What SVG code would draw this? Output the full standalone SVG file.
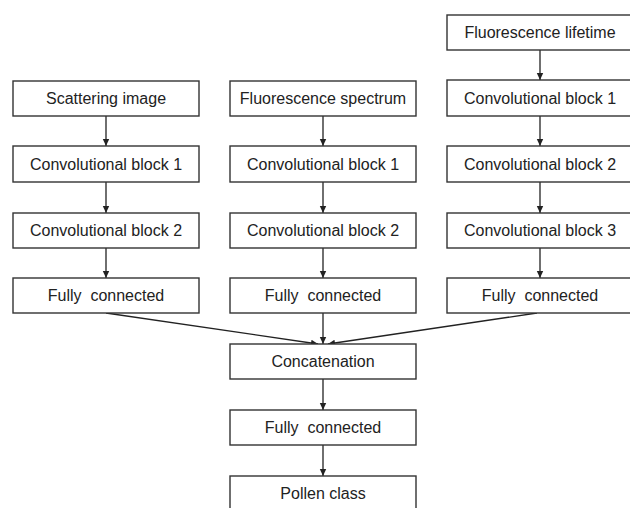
<svg xmlns="http://www.w3.org/2000/svg" width="630" height="508" viewBox="0 0 630 508">
<defs>
<marker id="ah" markerWidth="8" markerHeight="8" refX="7" refY="4" orient="auto" markerUnits="userSpaceOnUse">
<path d="M0,0.8 L7,4 L0,7.2 Z" fill="#222"/>
</marker>
<style>
.box{fill:#fff;stroke:#333;stroke-width:1.4}
.t{font-family:"Liberation Sans",Arial,sans-serif;font-size:16px;fill:#222;text-anchor:middle}
.c{stroke:#222;stroke-width:1.3;fill:none;marker-end:url(#ah)}
</style>
</defs>
<rect width="630" height="508" fill="#fff"/>
<g id="connectors">
<line class="c" x1="106" y1="116" x2="106" y2="146"/>
<line class="c" x1="106" y1="182" x2="106" y2="213"/>
<line class="c" x1="106" y1="248" x2="106" y2="278"/>
<line class="c" x1="323" y1="116" x2="323" y2="146"/>
<line class="c" x1="323" y1="182" x2="323" y2="213"/>
<line class="c" x1="323" y1="248" x2="323" y2="278"/>
<line class="c" x1="540" y1="50" x2="540" y2="80"/>
<line class="c" x1="540" y1="116" x2="540" y2="146"/>
<line class="c" x1="540" y1="182" x2="540" y2="213"/>
<line class="c" x1="540" y1="248" x2="540" y2="278"/>
<line class="c" x1="106" y1="313" x2="318" y2="344"/>
<line class="c" x1="323" y1="313" x2="323" y2="344"/>
<line class="c" x1="537" y1="313" x2="328" y2="344"/>
<line class="c" x1="323" y1="379" x2="323" y2="410"/>
<line class="c" x1="323" y1="445" x2="323" y2="476"/>
</g>
<g id="n_scatter"><rect class="box" x="13" y="81" width="186" height="35"/><text class="t" x="106" y="104">Scattering image</text></g>
<g id="n_c1_conv1"><rect class="box" x="13" y="146" width="186" height="36"/><text class="t" x="106" y="170">Convolutional block 1</text></g>
<g id="n_c1_conv2"><rect class="box" x="13" y="213" width="186" height="35"/><text class="t" x="106" y="236">Convolutional block 2</text></g>
<g id="n_c1_fc"><rect class="box" x="13" y="278" width="186" height="35"/><text class="t" x="106" y="301" xml:space="preserve">Fully  connected</text></g>
<g id="n_spectrum"><rect class="box" x="230" y="81" width="186" height="35"/><text class="t" x="323" y="104">Fluorescence spectrum</text></g>
<g id="n_c2_conv1"><rect class="box" x="230" y="146" width="186" height="36"/><text class="t" x="323" y="170">Convolutional block 1</text></g>
<g id="n_c2_conv2"><rect class="box" x="230" y="213" width="186" height="35"/><text class="t" x="323" y="236">Convolutional block 2</text></g>
<g id="n_c2_fc"><rect class="box" x="230" y="278" width="186" height="35"/><text class="t" x="323" y="301" xml:space="preserve">Fully  connected</text></g>
<g id="n_lifetime"><rect class="box" x="447" y="15" width="186" height="35"/><text class="t" x="540" y="38">Fluorescence lifetime</text></g>
<g id="n_c3_conv1"><rect class="box" x="447" y="80" width="186" height="36"/><text class="t" x="540" y="104">Convolutional block 1</text></g>
<g id="n_c3_conv2"><rect class="box" x="447" y="146" width="186" height="36"/><text class="t" x="540" y="170">Convolutional block 2</text></g>
<g id="n_c3_conv3"><rect class="box" x="447" y="213" width="186" height="35"/><text class="t" x="540" y="236">Convolutional block 3</text></g>
<g id="n_c3_fc"><rect class="box" x="447" y="278" width="186" height="35"/><text class="t" x="540" y="301" xml:space="preserve">Fully  connected</text></g>
<g id="n_concat"><rect class="box" x="230" y="344" width="186" height="35"/><text class="t" x="323" y="367">Concatenation</text></g>
<g id="n_fc"><rect class="box" x="230" y="410" width="186" height="35"/><text class="t" x="323" y="433" xml:space="preserve">Fully  connected</text></g>
<g id="n_pollen"><rect class="box" x="230" y="476" width="186" height="36"/><text class="t" x="323" y="499">Pollen class</text></g>
</svg>
